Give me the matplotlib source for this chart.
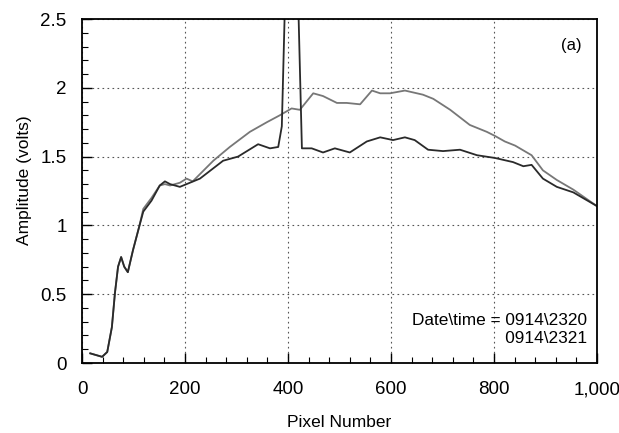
import matplotlib.pyplot as plt
from matplotlib.ticker import MultipleLocator, FuncFormatter
from matplotlib.transforms import ScaledTranslation

plt.rcParams['font.family'] = ['Liberation Sans', 'DejaVu Sans']

# scan 0914\2320 (darker trace, with the spike near pixel 400)
px_a = [16, 39, 49, 58, 64, 70, 76, 82, 89, 99, 111, 119, 135, 151, 161, 171,
        190, 203, 229, 274, 303, 342, 365, 381, 388, 394, 407, 420, 427, 446,
        468, 491, 520, 553, 579, 604, 627, 646, 672, 701, 734, 767, 802, 837,
        857, 873, 895, 922, 954, 1000]
amp_a = [0.07, 0.045, 0.08, 0.26, 0.51, 0.70, 0.77, 0.70, 0.66, 0.82, 0.99, 1.10,
         1.18, 1.29, 1.32, 1.30, 1.28, 1.30, 1.34, 1.47, 1.50, 1.59, 1.56, 1.57,
         1.72, 2.6, 2.8, 2.6, 1.56, 1.56, 1.53, 1.56, 1.53, 1.61, 1.64, 1.62,
         1.64, 1.62, 1.55, 1.54, 1.55, 1.51, 1.49, 1.46, 1.43, 1.44, 1.34, 1.28,
         1.24, 1.14]

# scan 0914\2321 (lighter trace, higher after pixel 400)
px_b = [16, 39, 49, 58, 64, 70, 76, 82, 89, 99, 111, 119, 135, 151, 161, 171,
        190, 203, 215, 255, 287, 326, 359, 384, 407, 423, 449, 468, 495, 514,
        540, 563, 579, 598, 627, 662, 682, 715, 753, 786, 802, 821, 841, 873,
        895, 922, 954, 1000]
amp_b = [0.07, 0.045, 0.08, 0.26, 0.51, 0.70, 0.77, 0.70, 0.66, 0.82, 0.99, 1.12,
         1.20, 1.29, 1.30, 1.29, 1.31, 1.34, 1.32, 1.47, 1.57, 1.68, 1.75, 1.80,
         1.85, 1.84, 1.96, 1.94, 1.89, 1.89, 1.88, 1.98, 1.96, 1.96, 1.98, 1.95,
         1.92, 1.84, 1.73, 1.68, 1.65, 1.61, 1.58, 1.51, 1.40, 1.33, 1.26, 1.14]

fig = plt.figure(figsize=(6.19, 4.33), dpi=100)
ax = fig.add_axes([82 / 619, 1 - 363 / 433, 515 / 619, 344 / 433])

ax.plot(px_b, amp_b, color='#777777', lw=1.3)
ax.plot(px_a, amp_a, color='#2a2a2a', lw=1.3)

ax.set_xlim(0, 1000)
ax.set_ylim(0, 2.5)
ax.xaxis.set_major_locator(MultipleLocator(200))
ax.xaxis.set_minor_locator(MultipleLocator(40))
ax.yaxis.set_major_locator(MultipleLocator(0.5))
ax.yaxis.set_minor_locator(MultipleLocator(0.1))
ax.xaxis.set_major_formatter(FuncFormatter(lambda v, p: f'{int(v):,}'))
ax.yaxis.set_major_formatter(FuncFormatter(lambda v, p: f'{v:g}'))
ax.tick_params(which='both', direction='in', top=False, right=False, labelsize=13.5)
ax.tick_params(which='major', length=7, width=1)
ax.tick_params(which='minor', length=4, width=0.8)
ax.tick_params(axis='x', pad=13)
ax.tick_params(axis='y', pad=11)
ax.grid(True, which='major', linestyle=(0, (1.5, 3)), color='#555555', lw=0.8)
for s in ax.spines.values():
    s.set_linewidth(1.3)

# nudge "1,000" left so it stays inside the figure
fig.canvas.draw()
last = ax.get_xticklabels()[-1]
last.set_transform(last.get_transform() + ScaledTranslation(-3 / 100, 0, fig.dpi_scale_trans))

ax.set_xlabel('Pixel Number', fontsize=12.5)
ax.set_ylabel('Amplitude (volts)', fontsize=12.5)
ax.xaxis.set_label_coords(0.50, -0.151)
ax.yaxis.set_label_coords(-0.097, 0.53)

ax.text(951, 2.31, '(a)', fontsize=12, ha='center', va='center')
ax.text(980, 0.24, 'Date\\time = 0914\\2320\n                       0914\\2321',
        fontsize=12.4, ha='right', va='center', linespacing=1.25)

fig.savefig('out.png', dpi=100)
